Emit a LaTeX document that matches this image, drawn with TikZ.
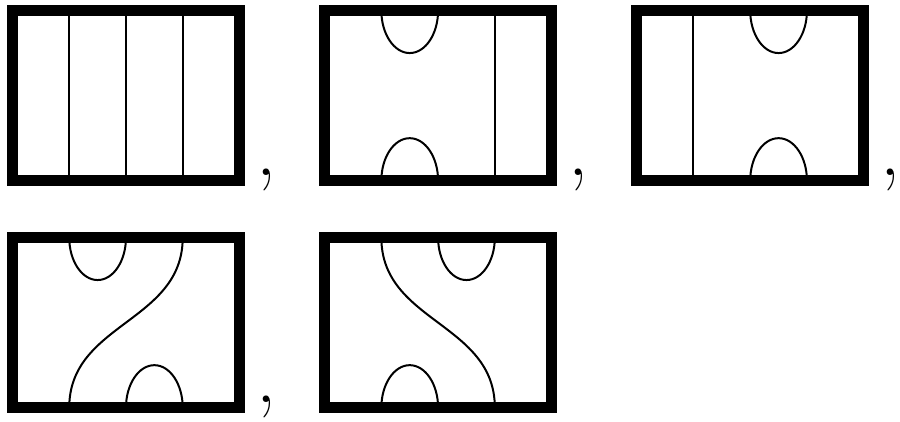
\documentclass[tikz,border=0pt]{standalone}
\usetikzlibrary{positioning}
\begin{document}
\begin{tikzpicture}[
  frame/.style={
    line width=5.5pt},
  strand/.style={
    line width=1pt},
  sepmark/.style={
    font=\fontsize{40}{48}\selectfont,
    inner sep=0pt, anchor=base}
]
\useasboundingbox (0,0) rectangle (15.86,-7.42);

% four straight strands
\begin{scope}[shift={(0.22,-3.185)}]
\foreach \x in {1,2,3}{
  \draw[strand] (\x,0) -- (\x,3);
}
\draw[frame] (0,0) rectangle (4,3);
\node[sepmark] (comma1) at (4.48,0.1) {,};
\end{scope}

% cup-cap left, strand right
\begin{scope}[shift={(5.72,-3.185)}]
\draw[strand] (1,3) arc[start angle=180, end angle=360,
  x radius=0.5, y radius=0.75];
\draw[strand] (1,0) arc[start angle=180, end angle=0,
  x radius=0.5, y radius=0.75];
\draw[strand] (3,0) -- (3,3);
\draw[frame] (0,0) rectangle (4,3);
\node[sepmark] (comma2) at (4.48,0.1) {,};
\end{scope}

% strand left, cup-cap right
\begin{scope}[shift={(11.22,-3.185)}]
\draw[strand] (1,0) -- (1,3);
\draw[strand] (2,3) arc[start angle=180, end angle=360,
  x radius=0.5, y radius=0.75];
\draw[strand] (2,0) arc[start angle=180, end angle=0,
  x radius=0.5, y radius=0.75];
\draw[frame] (0,0) rectangle (4,3);
\node[sepmark] (comma3) at (4.48,0.1) {,};
\end{scope}

% cup left, cap right, crossing strand
\begin{scope}[shift={(0.22,-7.185)}]
\draw[strand] (1,3) arc[start angle=180, end angle=360,
  x radius=0.5, y radius=0.75];
\draw[strand] (2,0) arc[start angle=180, end angle=0,
  x radius=0.5, y radius=0.75];
\draw[strand] (3,3) .. controls (3,1.5) and (1,1.5) .. (1,0);
\draw[frame] (0,0) rectangle (4,3);
\node[sepmark] (comma4) at (4.48,0.1) {,};
\end{scope}

% cup right, cap left, crossing strand
\begin{scope}[shift={(5.72,-7.185)}]
\draw[strand] (2,3) arc[start angle=180, end angle=360,
  x radius=0.5, y radius=0.75];
\draw[strand] (1,0) arc[start angle=180, end angle=0,
  x radius=0.5, y radius=0.75];
\draw[strand] (1,3) .. controls (1,1.5) and (3,1.5) .. (3,0);
\draw[frame] (0,0) rectangle (4,3);
\end{scope}
\end{tikzpicture}
\end{document}
